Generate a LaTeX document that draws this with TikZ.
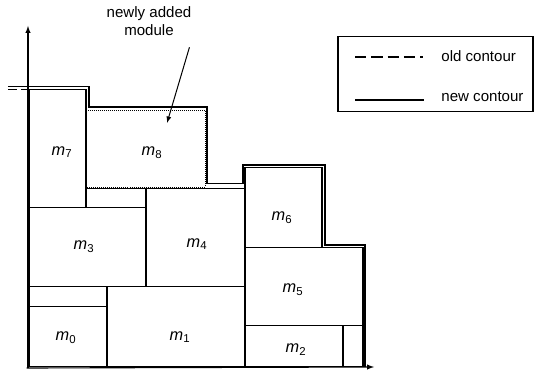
\documentclass[tikz,border=0pt]{standalone}
\usepackage{fontspec}
\setmainfont{Liberation Sans}
\usetikzlibrary{positioning}
\tikzset{
  module/.style={draw=black,line width=0.8pt},
  newmodule/.style={draw=black,line width=0.6pt,densely dotted},
  oldcontour/.style={draw=black,line width=0.8pt,dash pattern=on 7pt off 3pt},
  newcontour/.style={draw=black,line width=1.1pt},
  axis/.style={line width=0.9pt,-latex},
  modname/.style={font=\fontsize{13}{15}\selectfont},
  note/.style={font=\fontsize{12}{14}\selectfont,align=center},
  legendtext/.style={font=\fontsize{12}{14}\selectfont,anchor=west}
}
\newcommand{\mlab}[1]{\textit{m}\textsubscript{#1}}

\begin{document}
\begin{tikzpicture}[x=0.028cm,y=-0.028cm]
    \useasboundingbox (0,0) rectangle (536,370);
    % axes
    \coordinate (origin) at (28,368);
    \coordinate (ytop) at (28,26);
    \coordinate (xend) at (374,367);
    \draw[axis] (origin) -- (ytop);
    \draw[axis] ([xshift=-1pt]origin) -- (xend);
    % modules
    \draw[module] (29,307) rectangle (107,367);
    \draw[module] (29,287) rectangle (107,307);
    \draw[module] (107,287) rectangle (245,367);
    \draw[module] (245,326) rectangle (343,367);
    \draw[module] (343,326) rectangle (363,367);
    \draw[module] (29,208) rectangle (146,287);
    \draw[module] (146,189) rectangle (245,287);
    \draw[module] (86,189) rectangle (146,208);
    \draw[module] (245,248) rectangle (363,326);
    \draw[module] (245,168) rectangle (322,248);
    \draw[module] (29,90) rectangle (86,208);
    \draw[newmodule] (86,110) rectangle (205,187);
    \node[modname] (m0) at (66,338) {\mlab{0}};
    \node[modname] (m1) at (180,337) {\mlab{1}};
    \node[modname] (m2) at (296,350) {\mlab{2}};
    \node[modname] (m3) at (84,247) {\mlab{3}};
    \node[modname] (m4) at (197,244) {\mlab{4}};
    \node[modname] (m5) at (293,290) {\mlab{5}};
    \node[modname] (m6) at (282,218) {\mlab{6}};
    \node[modname] (m7) at (62,152) {\mlab{7}};
    \node[modname] (m8) at (152,153) {\mlab{8}};
    % contours
    \draw[oldcontour] (8,90) -- (86,90) -- (86,189) -- (245,189) -- (245,168)
        -- (322,168) -- (322,248) -- (363,248) -- (363,367);
    \draw[newcontour] (8,86.5) -- (89,86.5) -- (89,107) -- (207,107) -- (207,183.5)
        -- (243,183.5) -- (243,165) -- (325,165) -- (325,245) -- (365,245) -- (365,367);
    % annotation
    \node[note] (newlbl) at (149,21) {newly added\\module};
    \coordinate (m8pt) at (167,123);
    \draw[-latex,line width=0.8pt] ([xshift=-5pt,yshift=-6pt]newlbl.south east) -- (m8pt);
    % legend
    \draw[line width=0.8pt] (338,37) rectangle (533,112);
    \node[legendtext] (oldtxt) at (437,56) {old contour};
    \node[legendtext] (newtxt) at (437,97) {new contour};
    \draw[line width=1.1pt,dash pattern=on 9pt off 4pt] (355,57) -- (423,57);
    \draw[line width=1.1pt] (355,100) -- (424,100);
  \end{tikzpicture}
\end{document}
